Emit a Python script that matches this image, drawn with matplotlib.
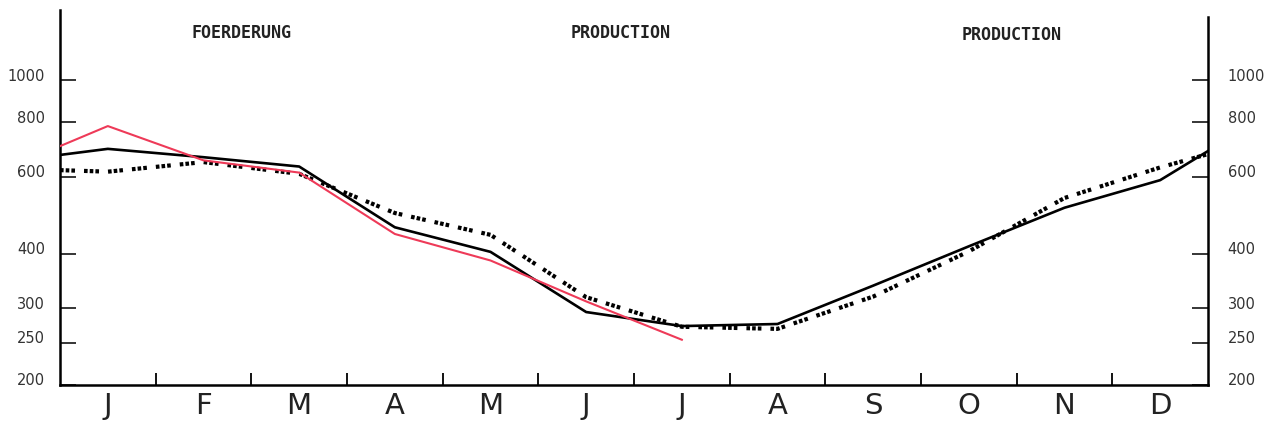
import numpy as np
import matplotlib
matplotlib.use("Agg")
import matplotlib.pyplot as plt
import matplotlib.transforms as mtransforms

plt.rcParams['lines.scale_dashes'] = False

months = ['J', 'F', 'M', 'A', 'M', 'J', 'J', 'A', 'S', 'O', 'N', 'D']
y_ticks = [200, 250, 300, 400, 600, 800, 1000]

# values at year start, each month centre, year end
black_vals = [674, 696, 666, 634, 460, 404, 294, 273, 276, 338, 416, 510, 590, 688]
dotted_vals = [622, 617, 649, 610, 496, 442, 318, 272, 269, 319, 405, 537, 631, 677]
# red series stops in July
red_vals = [706, 785, 655, 614, 444, 386, 311, 254]

headings = ['FOERDERUNG', 'PRODUCTION', 'PRODUCTION']
heading_pos = [(0.158, 0.94), (0.488, 0.94), (0.829, 0.933)]

x_full = np.concatenate([[0], np.arange(12) + 0.5, [12]])
x_red = x_full[:len(red_vals)]

fig = plt.figure(figsize=(12.68, 4.23), dpi=100)
ax = fig.add_axes([60 / 1268, 38 / 423, 1148 / 1268, 375 / 423])

ax.plot(x_full, black_vals, color='black', lw=1.9, zorder=3)
ax.plot(x_red, red_vals, color='#ee3a58', lw=1.5, zorder=4)
ax.plot(x_full, dotted_vals, color='black', lw=3.0,
        linestyle=(0, (2.6, 1.5, 2.6, 1.5, 2.6, 6.5)),
        dash_capstyle='butt', zorder=2)

ax.set_yscale('log')
ax.set_xlim(0, 12)
ax.set_ylim(200, 1449)

for s in ['left', 'right', 'bottom']:
    ax.spines[s].set_linewidth(1.8)
ax.spines['top'].set_visible(False)
ax.spines['right'].set_bounds(200, 1400)

# y ticks drawn inside on both sides, labels placed by hand a little above
ax.yaxis.set_minor_locator(matplotlib.ticker.NullLocator())
ax.set_yticks(y_ticks)
ax.set_yticklabels([])
ax.tick_params(axis='y', which='major', direction='in', length=11.5, width=1.1,
               left=True, right=True)

trans = mtransforms.blended_transform_factory(ax.transAxes, ax.transData)
trans_up = mtransforms.offset_copy(trans, fig=fig, x=0, y=4, units='dots')
for v in y_ticks:
    ax.text(-0.013, v, str(v), transform=trans_up, ha='right', va='center',
            fontsize=10.5, color='#333333')
    ax.text(1.017, v, str(v), transform=trans_up, ha='left', va='center',
            fontsize=10.5, color='#333333')

ax.set_xticks(np.arange(1, 12))
ax.set_xticklabels([])
ax.set_xticks(np.arange(12) + 0.5, minor=True)
ax.set_xticklabels(months, minor=True, fontsize=21, color='#222222')
ax.tick_params(axis='x', which='major', direction='in', length=8.5, width=1.3)
ax.tick_params(axis='x', which='minor', length=0, pad=5)

for text, (hx, hy) in zip(headings, heading_pos):
    ax.text(hx, hy, text, transform=ax.transAxes, ha='center', va='center',
            family='DejaVu Sans Mono', fontweight='bold', fontsize=12,
            color='#222222')

fig.savefig('out.png', dpi=100, facecolor='white')
